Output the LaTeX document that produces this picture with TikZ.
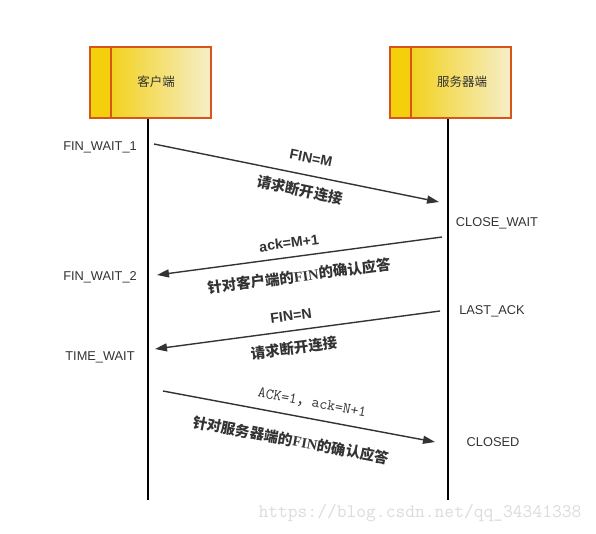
\documentclass[tikz,border=0pt]{standalone}
\usepackage{fontspec}
\setmainfont{Liberation Sans}
\newfontfamily\cjk{Noto Sans CJK SC}
\newfontfamily\serifb{Liberation Serif}
\usetikzlibrary{arrows.meta}
\definecolor{ink}{HTML}{333333}
\definecolor{boxedge}{HTML}{D9541A}
\definecolor{yl}{HTML}{F4CF0C}
\definecolor{ylL}{HTML}{F2D21E}
\definecolor{ylR}{HTML}{F6EECA}
\definecolor{wm}{HTML}{DCDCDC}
\tikzset{
  boxtext/.style={font=\cjk\fontsize{12.5}{14}\selectfont, text=ink, inner sep=0},
  state/.style={font=\fontsize{12.8}{14}\selectfont, text=ink, inner sep=0},
  msg/.style={draw=ink, line width=1.4, -{Triangle[length=12,width=8]}},
  lifeline/.style={draw=black, line width=1.2},
  lblsans/.style={font=\bfseries\fontsize{14.2}{16}\selectfont, text=ink, inner sep=0},
  lblcjk/.style={font=\cjk\bfseries\fontsize{14.5}{16}\selectfont, text=ink, inner sep=0},
  lblmono/.style={font=\ttfamily\fontsize{15.3}{16}\selectfont, text=ink, inner sep=0},
}
\begin{document}
\begin{tikzpicture}[x=1pt,y=-1pt]
\useasboundingbox (0,0) rectangle (596,533);
\fill[white] (0,0) rectangle (596,533);
% boxes
\foreach \x in {90,390}{
  \shade[left color=ylL, right color=ylR] (\x+21,47) rectangle (\x+121,118);
  \fill[yl] (\x,47) rectangle (\x+21,118);
  \draw[boxedge, line width=2] (\x,47) rectangle (\x+121,118);
  \draw[boxedge, line width=2] (\x+21,47) -- (\x+21,118);
}
\node[boxtext] (cli) at (156,82) {客户端};
\node[boxtext] (srv) at (462,82) {服务器端};
% lifelines
\coordinate (clitop) at (148,119);
\coordinate (cliend) at (148,500);
\coordinate (srvtop) at (448,119);
\coordinate (srvend) at (448,500);
\draw[lifeline] (clitop) -- (cliend);
\draw[lifeline] (srvtop) -- (srvend);
% states
\node[state] (fw1) at (100,147.5) {FIN\_WAIT\_1};
\node[state] (cw) at (497,223.5) {CLOSE\_WAIT};
\node[state] (fw2) at (100,277.5) {FIN\_WAIT\_2};
\node[state] (la) at (492,311.5) {LAST\_ACK};
\node[state] (tw) at (100,357.5) {TIME\_WAIT};
\node[state] (cl) at (493,442.5) {CLOSED};
% messages
\coordinate (a1s) at (154,144); \coordinate (a1e) at (439,202);
\coordinate (a2s) at (442,237); \coordinate (a2e) at (157,275);
\coordinate (a3s) at (440,311); \coordinate (a3e) at (155,349);
\coordinate (a4s) at (163,391); \coordinate (a4e) at (435,442);
\draw[msg] (a1s) -- (a1e);
\draw[msg] (a2s) -- (a2e);
\draw[msg] (a3s) -- (a3e);
\draw[msg] (a4s) -- (a4e);
% labels
\node[lblsans, rotate=-11.5] (l1a) at (311,158) {FIN=M};
\node[lblcjk, rotate=-11.5] (l1b) at (300,190) {请求断开连接};
\node[lblsans, rotate=7.6] (l2a) at (289,243) {ack=M+1};
\node[lblcjk, rotate=7.6] (l2b) at (299,276) {针对客户端的{\serifb\bfseries FIN}的确认应答};
\node[lblsans, rotate=7.6] (l3a) at (291,316) {FIN=N};
\node[lblcjk, rotate=7.6] (l3b) at (294,348) {请求断开连接};
\node[lblmono, rotate=-10.6] (l4a) at (312,403) {ACK=1{\cjk ，}ack=N+1};
\node[lblcjk, rotate=-10.6] (l4b) at (291,440) {针对服务器端的{\serifb\bfseries FIN}的确认应答};
% watermark
\node[font=\ttfamily\fontsize{19}{20}\selectfont, text=wm, inner sep=0] (wmk) at (420,513) {https://blog.csdn.net/qq\_34341338};
\end{tikzpicture}
\end{document}
